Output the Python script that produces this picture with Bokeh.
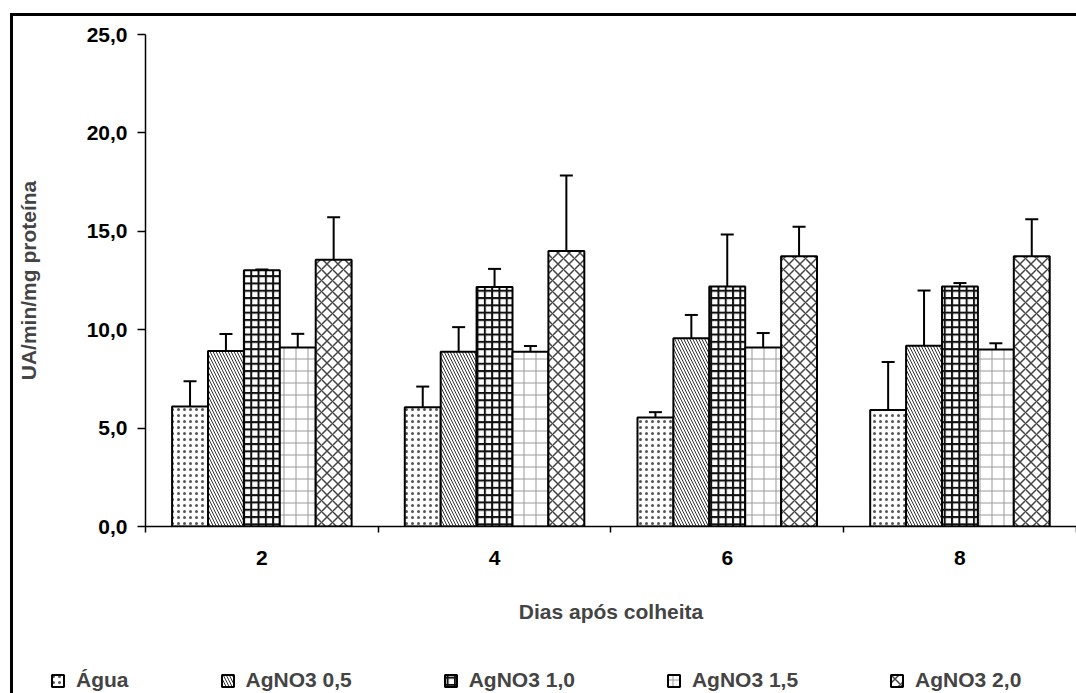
from bokeh.plotting import figure
from bokeh.layouts import column
from bokeh.models import (Range1d, FixedTicker, Whisker, TeeHead, ColumnDataSource,
                          Legend, LegendItem)
from bokeh.embed import file_html
from bokeh.resources import INLINE

# ---- data ----
days = ["2", "4", "6", "8"]
series_names = ["Água", "AgNO3 0,5", "AgNO3 1,0", "AgNO3 1,5", "AgNO3 2,0"]

agua = [6.10, 6.06, 5.54, 5.92]
agua_err = [1.28, 1.05, 0.27, 2.44]
ag05 = [8.92, 8.88, 9.56, 9.19]
ag05_err = [0.86, 1.25, 1.19, 2.80]
ag10 = [13.02, 12.17, 12.19, 12.19]
ag10_err = [0.04, 0.92, 2.65, 0.18]
ag15 = [9.10, 8.88, 9.10, 9.00]
ag15_err = [0.69, 0.29, 0.73, 0.31]
ag20 = [13.56, 14.00, 13.73, 13.73]
ag20_err = [2.15, 3.84, 1.50, 1.88]

y_ticks = [0, 5, 10, 15, 20, 25]
y_tick_labels = ["0,0", "5,0", "10,0", "15,0", "20,0", "25,0"]

values = [agua, ag05, ag10, ag15, ag20]
errors = [agua_err, ag05_err, ag10_err, ag15_err, ag20_err]

# ---- styles ----
FONT = "Liberation Sans"
FS = "21px"
hatches = [
    dict(hatch_pattern="dot", hatch_color="#555555", hatch_scale=6, hatch_weight=1.6),
    dict(hatch_pattern="left_diagonal_line", hatch_color="#333333", hatch_scale=6, hatch_weight=1.0),
    dict(hatch_pattern="cross", hatch_color="#111111", hatch_scale=7.3, hatch_weight=2),
    dict(hatch_pattern="cross", hatch_color="#999999", hatch_scale=12, hatch_weight=1),
    dict(hatch_pattern="diagonal_cross", hatch_color="#444444", hatch_scale=11, hatch_weight=1.5),
]

W, H1, H2 = 1063, 630, 47
LEFT, TOP = 132, 18
BOTTOM = H1 - 510
CAT_PX = 232.7
x_end = (W - LEFT) / CAT_PX

p = figure(width=W, height=H1, x_range=Range1d(0, x_end), y_range=Range1d(0, 25),
           output_backend="svg", toolbar_location=None,
           min_border_left=LEFT, min_border_right=0, min_border_top=TOP,
           min_border_bottom=BOTTOM)
p.styles = {"box-shadow": "-3px 0px 0px 0px black, 0px -3px 0px 0px black, -3px -3px 0px 0px black"}
p.frame_align = False
p.xgrid.visible = False
p.ygrid.visible = False
p.outline_line_color = None
p.background_fill_color = "white"
p.border_fill_color = "white"

# y axis
ya = p.yaxis[0]
ya.ticker = FixedTicker(ticks=y_ticks)
ya.major_label_overrides = dict(zip(y_ticks, y_tick_labels))
ya.minor_tick_line_color = None
ya.major_tick_out = 8
ya.major_tick_in = 0
ya.major_tick_line_width = 1.5
ya.axis_line_width = 1.5
ya.major_label_standoff = 10
ya.major_label_text_font = FONT
ya.major_label_text_font_size = FS
ya.major_label_text_font_style = "bold"
ya.major_label_text_color = "black"
ya.axis_label = "UA/min/mg proteína"
ya.axis_label_text_font = FONT
ya.axis_label_text_font_size = FS
ya.axis_label_text_font_style = "bold"
ya.axis_label_standoff = 44

# x axis
centers = [i + 0.5 for i in range(len(days))]
xa = p.xaxis[0]
xa.ticker = FixedTicker(ticks=centers, minor_ticks=list(range(len(days) + 1)))
xa.major_label_overrides = dict(zip(centers, days))
xa.major_tick_line_color = None
xa.major_tick_out = 0
xa.major_tick_in = 0
xa.minor_tick_out = 6
xa.minor_tick_in = 0
xa.minor_tick_line_width = 1.5
xa.axis_line_width = 1.5
xa.major_label_standoff = 18
xa.major_label_text_font = FONT
xa.major_label_text_font_size = FS
xa.major_label_text_font_style = "bold"
xa.major_label_text_color = "black"
xa.axis_label = "Dias após colheita"
xa.axis_label_text_font = FONT
xa.axis_label_text_font_size = FS
xa.axis_label_text_font_style = "bold"
xa.axis_label_standoff = 32

# legend strip (its own small figure under the chart; its renderers are hidden,
# they only provide the legend swatches)
p2 = figure(width=W, height=H2, x_range=Range1d(100, 101), y_range=Range1d(100, 101),
            output_backend="svg", toolbar_location=None, min_border=0,
            x_axis_location=None, y_axis_location=None)
p2.styles = {"box-shadow": "-3px 0px 0px 0px black"}
p2.frame_align = False
p2.xgrid.visible = False
p2.ygrid.visible = False
p2.outline_line_color = None
p2.background_fill_color = "white"
p2.border_fill_color = "white"

bw = 0.1543
items = []
for k, (name, vals, errs) in enumerate(zip(series_names, values, errors)):
    xs = [c + (k - 2) * bw for c in centers]
    src = ColumnDataSource(dict(x=xs, top=vals,
                                upper=[v + e for v, e in zip(vals, errs)],
                                lower=[v - e for v, e in zip(vals, errs)]))
    style = dict(fill_color="white", line_color="black", line_width=2, **hatches[k])
    p.vbar(x="x", top="top", bottom=0, width=bw, source=src, **style)
    wh = Whisker(base="x", upper="upper", lower="lower", source=src,
                 line_width=2, line_color="black",
                 upper_head=TeeHead(size=13, line_width=2, line_color="black"),
                 lower_head=TeeHead(size=13, line_width=2, line_color="black"))
    p.add_layout(wh)
    r2 = p2.vbar(x="x", top="top", bottom=0, width=bw, source=src, **style)
    r2.visible = False
    items.append(LegendItem(label=name, renderers=[r2]))

legend = Legend(items=items, orientation="horizontal", location=(37, 1),
                padding=0, margin=0, spacing=91, glyph_width=15, glyph_height=15,
                label_standoff=11, label_text_font=FONT, label_text_font_size=FS,
                label_text_font_style="bold", border_line_color=None,
                background_fill_alpha=0, click_policy="none")
p2.add_layout(legend)

layout = column(p, p2, spacing=0, margin=(16, 0, 0, 13))
open("out.html", "w").write(file_html(layout, INLINE))
